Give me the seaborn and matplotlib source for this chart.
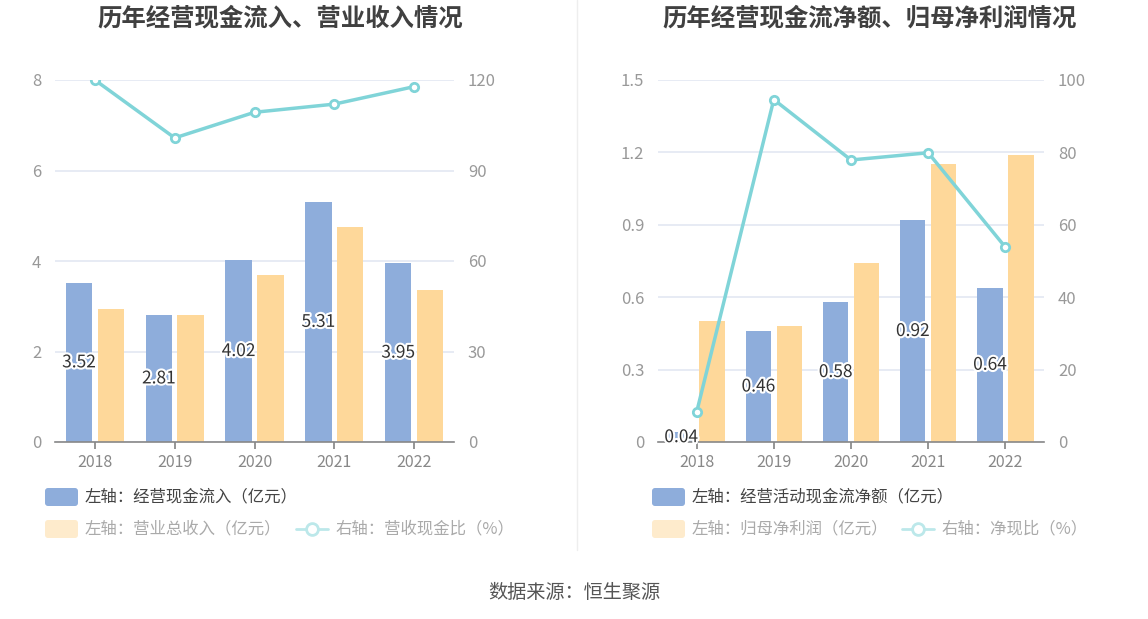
import numpy as np
import pandas as pd
import seaborn as sns
import matplotlib.pyplot as plt
from matplotlib.patches import FancyBboxPatch
from matplotlib.lines import Line2D
from matplotlib.ticker import FuncFormatter
import matplotlib.patheffects as pe

# data
years = ["2018", "2019", "2020", "2021", "2022"]

cash_in = [3.52, 2.81, 4.02, 5.31, 3.95]
revenue = [2.94, 2.80, 3.68, 4.76, 3.36]
cash_rev_ratio = [120.0, 100.8, 109.3, 112.0, 117.8]

net_cash = [0.04, 0.46, 0.58, 0.92, 0.64]
net_profit = [0.50, 0.48, 0.74, 1.15, 1.19]
net_cash_ratio = [8.2, 94.6, 77.9, 79.9, 53.8]

BLUE = "#8eaddb"
ORANGE = "#fed89a"
TEAL = "#80d4d8"
GRID = "#e3e8f2"
TICK = "#999999"

sns.set_theme(style="white")
plt.rcParams["font.family"] = ["Noto Sans CJK SC", "DejaVu Sans"]

fig = plt.figure(figsize=(11.48, 6.19), dpi=100)
H = 619


def px(x, y):
    return x / 100, (H - y) / 100


def draw_panel(rect, bar_a, bar_b, ratio, left_ticks, right_ticks, fmt):
    ax = fig.add_axes(rect)
    df = pd.DataFrame({"year": years * 2,
                       "value": bar_a + bar_b,
                       "series": ["a"] * 5 + ["b"] * 5})
    sns.barplot(data=df, x="year", y="value", hue="series", palette=[BLUE, ORANGE],
                width=0.8, saturation=1, ax=ax, legend=False)
    for p in ax.patches:
        c = p.get_x() + p.get_width() / 2
        p.set_width(0.33)
        p.set_x(c - 0.165)
        p.set_edgecolor("none")
    for i, v in enumerate(bar_a):
        ax.text(i - 0.2, v / 2, f"{v:.2f}", ha="center", va="center", fontsize=12.5,
                color="#333333", zorder=5,
                path_effects=[pe.withStroke(linewidth=3, foreground="white")])
    ax.set_ylim(left_ticks[0], left_ticks[-1])
    ax.set_yticks(left_ticks)
    ax.yaxis.set_major_formatter(FuncFormatter(fmt))
    ax.yaxis.grid(True, color=GRID, lw=1.2)
    ax.set_axisbelow(True)
    for s in ["top", "right", "left"]:
        ax.spines[s].set_visible(False)
    ax.spines["bottom"].set_color("#888888")
    ax.spines["bottom"].set_linewidth(1.2)
    ax.tick_params(axis="y", length=0, labelsize=12, labelcolor=TICK, pad=10)
    ax.tick_params(axis="x", length=5, color="#888888", labelsize=11.5, labelcolor="#888888",
                   bottom=True)
    ax.set_xlabel("")
    ax.set_ylabel("")

    ax2 = ax.twinx()
    sns.lineplot(x=np.arange(len(years)), y=ratio, ax=ax2, color=TEAL, lw=2.5,
                 marker="o", markersize=6, markerfacecolor="white",
                 markeredgecolor=TEAL, markeredgewidth=2, zorder=3)
    ax2.set_ylim(right_ticks[0], right_ticks[-1])
    ax2.set_yticks(right_ticks)
    for s in ax2.spines.values():
        s.set_visible(False)
    ax2.tick_params(axis="y", length=0, labelsize=12, labelcolor=TICK, pad=10)
    ax2.set_ylabel("")
    ax.set_xlim(-0.5, len(years) - 0.5)
    ax2.set_xlim(-0.5, len(years) - 0.5)
    return ax


def num_fmt(v, pos):
    return "0" if v == 0 else f"{v:g}"


def dec_fmt(v, pos):
    return "0" if v == 0 else f"{v:.1f}"


draw_panel([55 / 1148, 1 - 442 / H, 399 / 1148, 362 / H],
           cash_in, revenue, cash_rev_ratio, [0, 2, 4, 6, 8], [0, 30, 60, 90, 120], num_fmt)
draw_panel([658 / 1148, 1 - 442 / H, 386 / 1148, 362 / H],
           net_cash, net_profit, net_cash_ratio, [0, 0.3, 0.6, 0.9, 1.2, 1.5],
           [0, 20, 40, 60, 80, 100], dec_fmt)

# titles
fig.text(*px(280, 18), "历年经营现金流入、营业收入情况", ha="center", va="center",
         fontsize=17.6, fontweight="bold", color="#404040", transform=fig.dpi_scale_trans)
fig.text(*px(870, 18), "历年经营现金流净额、归母净利润情况", ha="center", va="center",
         fontsize=17.6, fontweight="bold", color="#404040", transform=fig.dpi_scale_trans)

# divider
fig.add_artist(Line2D([577 / 100, 577 / 100], [(H - 550) / 100, H / 100], color="#eeeeee",
                      lw=1, transform=fig.dpi_scale_trans))


def legend_box(x, y, color):
    x0, y0 = px(x, y + 9)
    fig.add_artist(FancyBboxPatch((x0, y0), 0.33, 0.18, boxstyle="round,pad=0,rounding_size=0.03",
                                  facecolor=color, edgecolor="none", transform=fig.dpi_scale_trans))


def legend_line(x, y, color):
    x0, y0 = px(x, y)
    fig.add_artist(Line2D([x0, x0 + 0.32], [y0, y0], color=color, lw=2,
                          transform=fig.dpi_scale_trans))
    fig.add_artist(Line2D([x0 + 0.16], [y0], marker="o", markersize=8.5, markerfacecolor="white",
                          markeredgecolor=color, markeredgewidth=2, transform=fig.dpi_scale_trans))


def legend_text(x, y, s, color):
    fig.text(*px(x, y), s, ha="left", va="center", fontsize=11.8, color=color,
             transform=fig.dpi_scale_trans)


FADE_TXT = "#aaaaaa"
FADE_OR = "#feebcc"
FADE_TEAL = "#bce8ea"

legend_box(45, 497, BLUE)
legend_text(85, 497, "左轴：经营现金流入（亿元）", "#444444")
legend_box(45, 529, FADE_OR)
legend_text(85, 529, "左轴：营业总收入（亿元）", FADE_TXT)
legend_line(296, 529, FADE_TEAL)
legend_text(336, 529, "右轴：营收现金比（%）", FADE_TXT)

legend_box(652, 497, BLUE)
legend_text(692, 497, "左轴：经营活动现金流净额（亿元）", "#444444")
legend_box(652, 529, FADE_OR)
legend_text(692, 529, "左轴：归母净利润（亿元）", FADE_TXT)
legend_line(902, 529, FADE_TEAL)
legend_text(941, 529, "右轴：净现比（%）", FADE_TXT)

fig.text(*px(574, 593), "数据来源：恒生聚源", ha="center", va="center", fontsize=13.8,
         color="#555555", transform=fig.dpi_scale_trans)

fig.savefig("out.png", dpi=100)
